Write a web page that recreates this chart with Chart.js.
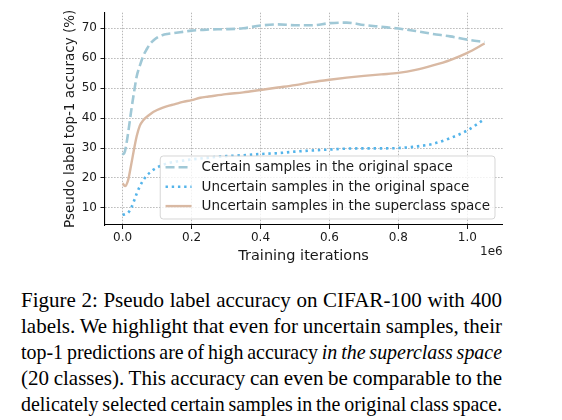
<!DOCTYPE html>
<html>
<head>
<meta charset="utf-8">
<script src="https://cdn.jsdelivr.net/npm/chart.js@4.4.1/dist/chart.umd.min.js"></script>
<style>
  html, body { margin: 0; padding: 0; background: #ffffff; }
  body { width: 562px; height: 420px; position: relative; overflow: hidden; }
  #chartWrap { position: absolute; left: 0; top: 0; width: 562px; height: 270px; }
  .cap { position: absolute; left: 21px; width: 481px; font-family: "Liberation Serif", "Times New Roman", serif;
         font-size: 21px; line-height: 26px; color: #000; white-space: nowrap; }
  .cap span { display: inline-block; white-space: nowrap; transform-origin: 0 50%; }
</style>
</head>
<body>
<div id="chartWrap"><canvas id="c" width="562" height="270"></canvas></div>
<div class="cap" style="top:287px"><span>Figure 2: Pseudo label accuracy on CIFAR-100 with 400</span></div>
<div class="cap" style="top:313px"><span>labels. We highlight that even for uncertain samples, their</span></div>
<div class="cap" style="top:339px"><span>top-1 predictions are of high accuracy <i>in the superclass space</i></span></div>
<div class="cap" style="top:365px"><span>(20 classes). This accuracy can even be comparable to the</span></div>
<div class="cap" style="top:391px"><span>delicately selected certain samples in the original class space.</span></div>
<script>
// ---- data (training iterations in units of 1e6) ----
const iterations = [0, 0.007, 0.016, 0.025, 0.033, 0.041, 0.05, 0.06, 0.07, 0.08, 0.09, 0.1, 0.115, 0.13, 0.15, 0.175, 0.2, 0.225, 0.25, 0.3, 0.35, 0.4, 0.45, 0.5, 0.55, 0.6, 0.65, 0.7, 0.75, 0.8, 0.85, 0.9, 0.95, 1.0, 1.05];
const certainOriginal = [27.7, 29, 35, 42.5, 48.5, 54, 57.5, 60.8, 63, 64.8, 66, 66.9, 67.7, 68.1, 68.4, 68.8, 69.2, 69.4, 69.6, 69.7, 70.0, 70.9, 71.3, 71.0, 71.0, 71.7, 71.9, 71.1, 70.5, 69.9, 69.1, 68.1, 67.3, 66.2, 65.4];
const uncertainOriginal = [7.7, 7.9, 8.4, 10, 12.3, 14.8, 17.2, 19.3, 20.8, 21.9, 22.8, 23.5, 24.3, 24.9, 25.4, 25.8, 26.2, 26.5, 26.8, 27.3, 27.6, 28.0, 28.3, 28.8, 29.2, 29.5, 29.8, 29.9, 29.9, 30.0, 30.5, 31.4, 33.3, 35.9, 39.7];
const uncertainSuperclass = [18.2, 17.3, 19.3, 24.5, 29.5, 34, 37.5, 39.3, 40.4, 41.3, 42.1, 42.7, 43.4, 44.0, 44.6, 45.4, 46.0, 46.8, 47.2, 48.0, 48.6, 49.4, 50.2, 51.0, 52.0, 52.8, 53.5, 54.1, 54.6, 55.1, 56.1, 57.6, 59.4, 61.8, 64.9];
const seriesLabels = ["Certain samples in the original space", "Uncertain samples in the original space", "Uncertain samples in the superclass space"];
const xTickValues = [0, 0.2, 0.4, 0.6, 0.8, 1.0];
const yTickValues = [10, 20, 30, 40, 50, 60, 70];
const xTitle = "Training iterations";
const yTitle = "Pseudo label top-1 accuracy (%)";
const xOffsetText = "1e6";

// justify caption lines: stretch spaces, or compress (limited spaces + horizontal scale)
document.querySelectorAll('.cap').forEach(el => {
  const span = el.querySelector('span');
  const target = 481;
  const w = span.getBoundingClientRect().width;
  const spaces = (span.textContent.match(/ /g) || []).length;
  if (!spaces) return;
  let ws = (target - w) / spaces;
  if (ws < -1.2) {
    ws = -1.2;
    span.style.wordSpacing = ws + 'px';
    const w2 = span.getBoundingClientRect().width;
    span.style.transform = 'scaleX(' + (target / w2) + ')';
  } else {
    span.style.wordSpacing = ws + 'px';
  }
});

const toXY = (ys) => iterations.map((x, i) => ({ x: x, y: ys[i] }));

const legendPlugin = {
  id: 'mplLegend',
  afterDatasetsDraw(chart) {
    const { ctx, chartArea } = chart;
    const ds = chart.data.datasets;
    ctx.save();
    ctx.font = '13.5px "DejaVu Sans"';
    const maxW = Math.max(...ds.map(d => ctx.measureText(d.label).width));
    const padL = 5.3, handleW = 26, gap = 10, padR = 5, rowH = 19.4;
    const w = padL + handleW + gap + maxW + padR;
    const h = 63;
    const right = chartArea.right - 7.7, bottom = chartArea.bottom - 6;
    const left = right - w, top = bottom - h;
    const r = 3;
    ctx.beginPath();
    ctx.moveTo(left + r, top);
    ctx.lineTo(right - r, top); ctx.arcTo(right, top, right, top + r, r);
    ctx.lineTo(right, bottom - r); ctx.arcTo(right, bottom, right - r, bottom, r);
    ctx.lineTo(left + r, bottom); ctx.arcTo(left, bottom, left, bottom - r, r);
    ctx.lineTo(left, top + r); ctx.arcTo(left, top, left + r, top, r);
    ctx.closePath();
    ctx.fillStyle = 'rgba(255,255,255,0.8)';
    ctx.fill();
    ctx.lineWidth = 1;
    ctx.strokeStyle = 'rgba(204,204,204,0.8)';
    ctx.stroke();
    ds.forEach((d, i) => {
      const y = top + 11.3 + i * rowH;
      ctx.beginPath();
      ctx.setLineDash(d.borderDash || []);
      ctx.lineWidth = d.borderWidth;
      ctx.strokeStyle = d.borderColor;
      ctx.moveTo(left + padL, y);
      ctx.lineTo(left + padL + handleW, y);
      ctx.stroke();
      ctx.setLineDash([]);
      ctx.fillStyle = '#1a1a1a';
      ctx.textBaseline = 'middle';
      ctx.textAlign = 'left';
      ctx.fillText(d.label, left + padL + handleW + gap, y + 0.5);
    });
    ctx.font = '12px "DejaVu Sans"';
    ctx.textAlign = 'right';
    ctx.textBaseline = 'middle';
    ctx.fillStyle = '#1a1a1a';
    ctx.fillText(xOffsetText, chartArea.right, chartArea.bottom + 27);
    ctx.restore();
  }
};

new Chart(document.getElementById('c'), {
  type: 'line',
  data: {
    datasets: [
      { label: seriesLabels[0], data: toXY(certainOriginal), borderColor: '#a0c8d6', borderWidth: 2.6, borderDash: [9, 4], pointRadius: 0, fill: false, cubicInterpolationMode: 'monotone' },
      { label: seriesLabels[1], data: toXY(uncertainOriginal), borderColor: '#54b4ea', borderWidth: 2.6, borderDash: [2.4, 3.8], pointRadius: 0, fill: false, cubicInterpolationMode: 'monotone' },
      { label: seriesLabels[2], data: toXY(uncertainSuperclass), borderColor: '#d9b9a3', borderWidth: 2.4, pointRadius: 0, fill: false, cubicInterpolationMode: 'monotone' }
    ]
  },
  options: {
    responsive: false,
    animation: false,
    devicePixelRatio: 1,
    layout: { padding: { left: 0, right: 59.3, top: 12.7, bottom: 0 } },
    plugins: { legend: { display: false }, tooltip: { enabled: false } },
    scales: {
      x: {
        type: 'linear',
        min: -0.0525, max: 1.1025,
        afterBuildTicks: (s) => { s.ticks = xTickValues.map(v => ({ value: v })); },
        afterFit: (s) => { s.height = 45; },
        ticks: { callback: (v) => Number(v).toFixed(1), font: { family: 'DejaVu Sans', size: 12 }, color: '#1a1a1a', padding: 2, maxRotation: 0, autoSkip: false },
        grid: { color: '#b8b8b8', lineWidth: 1, tickLength: 4, tickColor: '#1a1a1a', tickBorderDash: [], tickWidth: 1 },
        border: { display: true, color: '#000', width: 1.1, dash: [1.5, 1.5] },
        title: { display: true, text: xTitle, font: { family: 'DejaVu Sans', size: 14.5 }, color: '#1a1a1a', padding: { top: 0, bottom: 5.3 } }
      },
      y: {
        type: 'linear',
        min: 4.3, max: 75.2,
        afterBuildTicks: (s) => { s.ticks = yTickValues.map(v => ({ value: v })); },
        afterFit: (s) => { s.width = 104.5; },
        ticks: { font: { family: 'DejaVu Sans', size: 12 }, color: '#1a1a1a', padding: 3.5 },
        grid: { color: '#b8b8b8', lineWidth: 1, tickLength: 4, tickColor: '#1a1a1a', tickBorderDash: [], tickWidth: 1 },
        border: { display: true, color: '#000', width: 1.1, dash: [1.5, 1.5] },
        title: { display: true, text: yTitle, font: { family: 'DejaVu Sans', size: 13.5 }, color: '#1a1a1a', padding: { top: 62, bottom: 0 } }
      }
    }
  },
  plugins: [legendPlugin]
});
</script>
</body>
</html>
